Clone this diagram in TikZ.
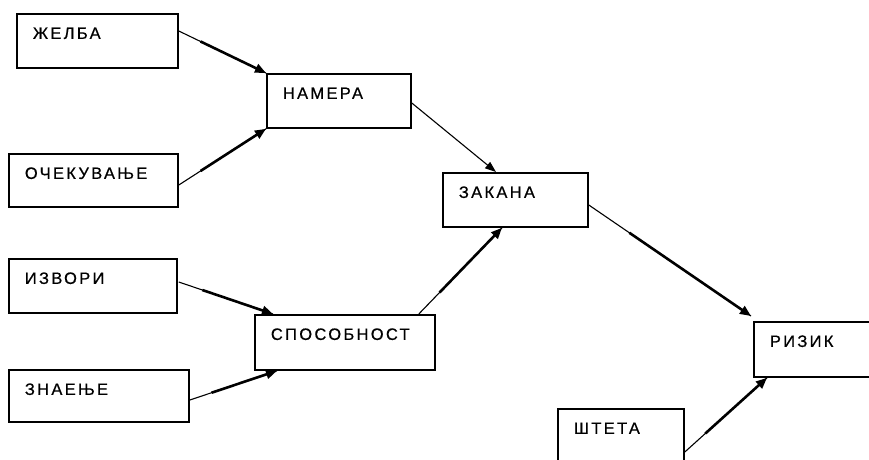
\documentclass[tikz,border=0pt]{standalone}
\usepackage{fontspec}
\newfontfamily\lblfont[LetterSpace=14,FakeBold=0.6]{Liberation Sans}
\usetikzlibrary{calc,arrows.meta}
\tikzset{
  box/.style={draw, line width=1.8pt, anchor=north west, inner xsep=16pt, inner ysep=0pt,
    align=left, text height=25pt, font={\lblfont\fontsize{16.5}{18}\selectfont}},
  thinln/.style={line width=1.1pt},
  thickln/.style={line width=2.6pt, -{Triangle[length=11pt,width=9pt]}},
  thinarrow/.style={line width=1.1pt, -{Triangle[length=11pt,width=8pt]}},
}
\begin{document}
\begin{tikzpicture}[x=1pt,y=-1pt]
\useasboundingbox (0,0) rectangle (869,459);
\clip (0,0) rectangle (869,459);
\node[box, text width=129pt, text depth=29pt] (zhelba) at (16,13) {ЖЕЛБА};
\node[box, text width=112pt, text depth=29pt] (namera) at (266,73) {НАМЕРА};
\node[box, text width=137pt, text depth=28pt] (ocek) at (8,153) {ОЧЕКУВАЊЕ};
\node[box, text width=136pt, text depth=29pt] (izvori) at (8,258) {ИЗВОРИ};
\node[box, text width=148pt, text depth=27pt] (znaenje) at (8,369) {ЗНАЕЊЕ};
\node[box, text width=148pt, text depth=30pt] (sposob) at (254,314) {СПОСОБНОСТ};
\node[box, text width=113pt, text depth=29pt] (zakana) at (442,172) {ЗАКАНА};
\node[box, text width=98pt, text depth=30pt] (rizik) at (753,321) {РИЗИК};
\node[box, text width=94pt, text depth=45pt] (shteta) at (557,408) {ШТЕТА};

% connector end points
\coordinate (a1) at ($(zhelba.north east)+(0,18)$);
\coordinate (b1) at (namera.north west);
\coordinate (a2) at ($(ocek.north east)+(0,32)$);
\coordinate (b2) at (namera.south west);
\coordinate (a3) at ($(izvori.north east)+(1,24)$);
\coordinate (b3) at ($(sposob.north west)+(19,0)$);
\coordinate (a4) at ($(znaenje.north east)+(0,31)$);
\coordinate (b4) at ($(sposob.south west)+(23,0)$);
\coordinate (a5) at ($(namera.north east)+(0,30)$);
\coordinate (b5) at ($(zakana.north west)+(54,0)$);
\coordinate (a6) at ($(sposob.north east)+(-17,0)$);
\coordinate (b6) at ($(zakana.south west)+(60,0)$);
\coordinate (a7) at ($(zakana.north east)+(0,33)$);
\coordinate (b7) at ($(rizik.north west)+(-2,-5)$);
\coordinate (a8) at ($(shteta.north east)+(0,44)$);
\coordinate (b8) at ($(rizik.south west)+(14,0)$);

\foreach \s/\e in {a1/b1,a2/b2,a3/b3,a4/b4,a6/b6,a7/b7,a8/b8}{
  \draw[thinln] (\s) -- (\e);
  \draw[thickln] ($(\s)!0.25!(\e)$) -- (\e);
}
\draw[thinarrow] (a5) -- (b5);
\end{tikzpicture}
\end{document}
